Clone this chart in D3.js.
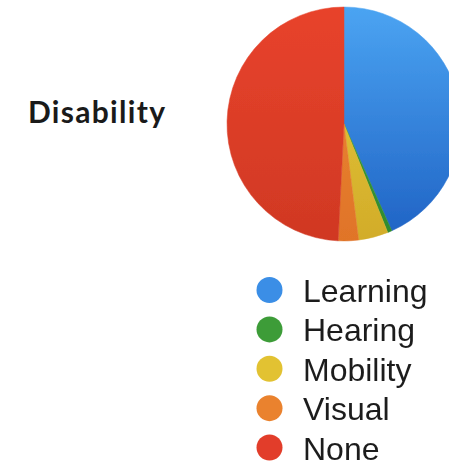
<!DOCTYPE html>
<html><head><meta charset="utf-8">
<script src="https://cdn.jsdelivr.net/npm/d3@7"></script>
<style>body{margin:0;background:#fff;} svg{display:block;}</style>
</head><body>
<svg id="c" width="449" height="465"></svg>
<script>
const categories = ["Learning", "Hearing", "Mobility", "Visual", "None"];
const values = [43.3, 0.6, 4.1, 2.8, 49.2];
const colorsTop = ["#4ba4f2", "#44a43c", "#e8cc3a", "#ee8a36", "#e8432c"];
const colorsBottom = ["#1f62c4", "#2f8a2e", "#d2ac2a", "#e07428", "#d03823"];
const legendColors = ["#3a8ee6", "#3c9c38", "#e2c232", "#ea822f", "#e23e29"];
const title = "Disability";

const svg = d3.select("#c");
const cx = 344, cy = 124, r = 117;
const defs = svg.append("defs");
categories.forEach((c, i) => {
  const g = defs.append("linearGradient").attr("id", "g" + i)
    .attr("gradientUnits", "userSpaceOnUse")
    .attr("x1", 0).attr("y1", -r).attr("x2", 0).attr("y2", r);
  g.append("stop").attr("offset", "0%").attr("stop-color", colorsTop[i]);
  g.append("stop").attr("offset", "100%").attr("stop-color", colorsBottom[i]);
});
defs.append("filter").attr("id", "blur").append("feGaussianBlur").attr("stdDeviation", 0.6);

const pie = d3.pie().sort(null).value(d => d.v);
const arc = d3.arc().innerRadius(0).outerRadius(r);
const data = categories.map((c, i) => ({c, v: values[i], i}));
svg.append("g").attr("transform", `translate(${cx},${cy})`)
  .attr("filter", "url(#blur)")
  .selectAll("path").data(pie(data)).join("path")
  .attr("d", arc)
  .attr("fill", d => `url(#g${d.data.i})`)
  .attr("stroke", d => `url(#g${d.data.i})`)
  .attr("stroke-width", 0.5);

svg.append("text").attr("x", 28).attr("y", 123)
  .attr("font-family", "Lato, 'Open Sans', sans-serif").attr("font-weight", 700)
  .attr("font-size", 30).attr("letter-spacing", 1.3).attr("fill", "#1a1a1a").text(title);

const ly = d3.scalePoint().domain(categories).range([290, 447.5]);
const lg = svg.append("g").attr("filter", "url(#blur)");
lg.selectAll("circle").data(categories).join("circle")
  .attr("cx", 269.5).attr("cy", d => ly(d)).attr("r", 13)
  .attr("fill", (d, i) => legendColors[i]);
lg.selectAll("text").data(categories).join("text")
  .attr("x", 303).attr("y", d => ly(d) + 12)
  .attr("font-family", "'Liberation Sans', Arial, sans-serif")
  .attr("font-size", 32).attr("fill", "#1e1e1e").text(d => d);
</script>
</body></html>
